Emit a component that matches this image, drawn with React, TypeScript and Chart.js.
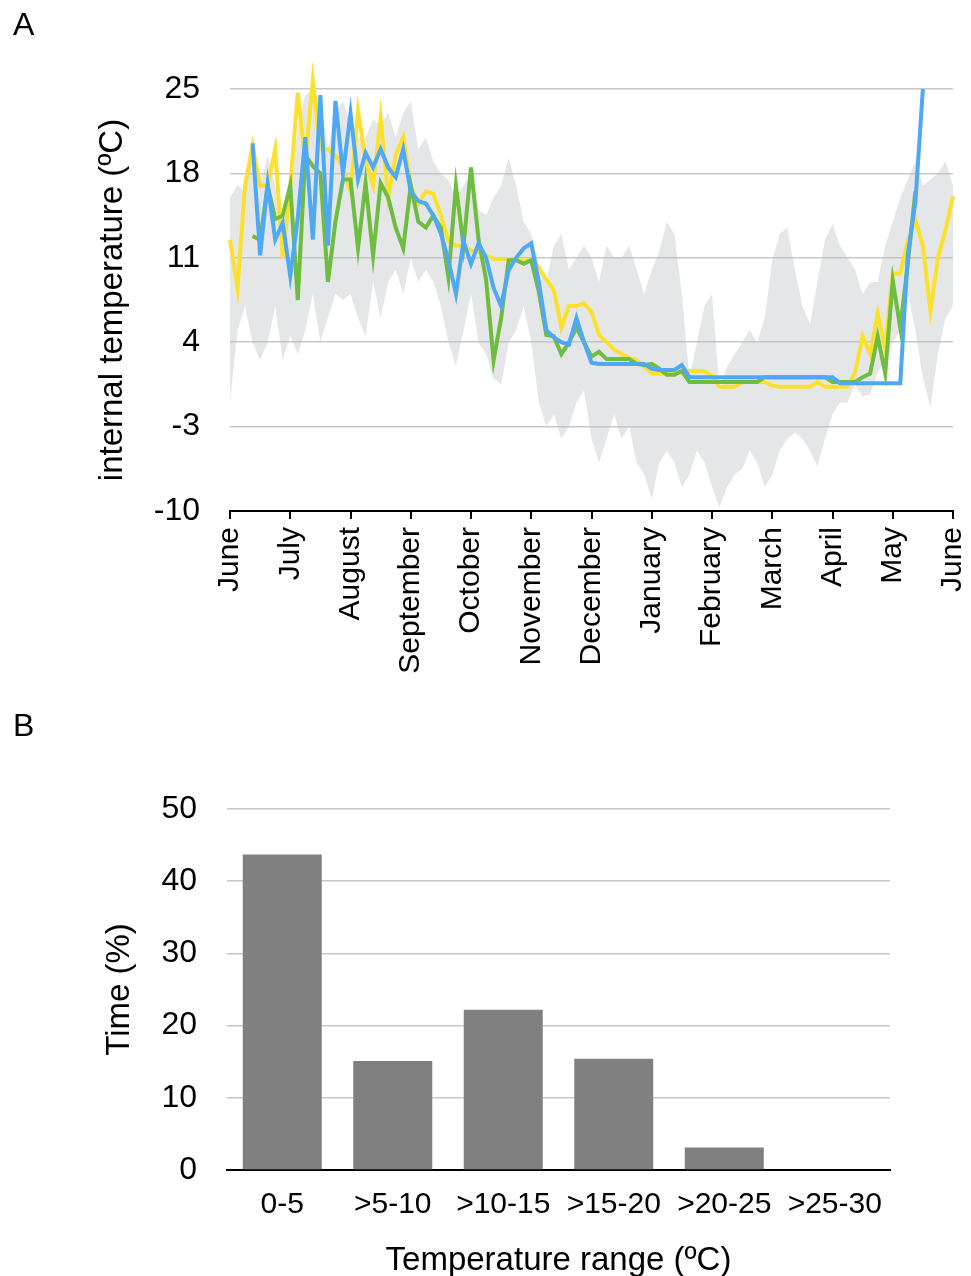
import React, { useEffect, useRef } from 'react';
import { Chart, registerables } from 'chart.js';

Chart.register(...registerables);

const FONT = '"Liberation Sans", Arial, Helvetica, sans-serif';

// ---------- Panel A data ----------
const monthLabels = ['June', 'July', 'August', 'September', 'October', 'November', 'December', 'January', 'February', 'March', 'April', 'May', 'June'];
const tempTicks = [-10, -3, 4, 11, 18, 25];
const samplesPerMonth = 8;

const yellowSeries = [
  12.5, 8.5, 17.0, 20.3, 17.0, 17.0, 20.0, 11.0,
  17.0, 24.7, 19.0, 25.7, 20.0, 20.0, 19.5, 18.5,
  16.5, 23.2, 19.0, 17.0, 22.6, 16.0, 19.5, 21.0,
  17.0, 15.5, 16.5, 16.3, 14.5, 12.4, 12.0, 12.0,
  11.6, 11.5, 11.2, 10.9, 10.9, 10.9, 10.8, 10.8,
  10.8, 10.2, 9.2, 8.3, 5.2, 7.0, 7.0, 7.2,
  6.5, 4.6, 4.0, 3.4, 3.0, 2.7, 2.5, 2.0,
  1.4, 1.4, 1.4, 1.4, 1.6, 1.6, 1.6, 1.6,
  1.2, 0.3, 0.3, 0.3, 0.7, 0.7, 0.7, 0.7,
  0.4, 0.3, 0.3, 0.3, 0.3, 0.3, 0.7, 0.3,
  0.3, 0.3, 0.3, 1.5, 4.5, 3.0, 6.4, 3.5,
  9.7, 9.7, 12.4, 14.1, 12.0, 6.6, 11.0, 13.3,
  16.1,
];

const greenSeries = [
  null, null, null, 12.8, 12.5, 17.0, 14.2, 14.5,
  17.0, 7.5, 19.5, 18.6, 18.0, 9.0, 14.0, 17.5,
  17.5, 11.8, 17.2, 11.2, 17.2, 16.0, 13.5, 11.8,
  17.0, 14.0, 13.5, 14.5, 13.5, 9.4, 17.0, 12.0,
  18.5, 12.5, 9.2, 2.5, 6.0, 10.8, 10.8, 10.5,
  10.8, 8.2, 4.6, 4.5, 3.0, 4.0, 5.2, 4.0,
  2.8, 3.2, 2.6, 2.6, 2.6, 2.6, 2.2, 2.1,
  2.2, 1.8, 1.3, 1.3, 1.6, 0.7, 0.7, 0.7,
  0.7, 0.7, 0.7, 0.7, 0.7, 0.7, 0.7, 1.1,
  1.1, 1.1, 1.1, 1.1, 1.1, 1.1, 1.1, 1.1,
  0.7, 0.7, 0.7, 0.7, 1.1, 1.4, 4.5, 1.4,
  9.1, 5.2, 10.5, 16.5, null, null, null, null,
  null,
];

const blueSeries = [
  null, null, null, 20.5, 11.2, 17.1, 12.5, 13.9,
  9.5, 14.3, 21.0, 12.5, 24.5, 12.0, 24.0, 18.0,
  23.0, 17.5, 19.7, 18.5, 20.0, 18.5, 17.7, 20.0,
  16.5, 15.7, 15.5, 14.5, 13.0, 10.8, 8.0, 12.4,
  10.5, 12.2, 11.0, 8.5, 7.0, 10.0, 11.0, 11.8,
  12.2, 9.0, 5.0, 4.4, 4.0, 3.8, 6.0, 4.0,
  2.3, 2.2, 2.2, 2.2, 2.2, 2.2, 2.2, 2.2,
  1.8, 1.7, 1.7, 1.7, 2.1, 1.1, 1.1, 1.1,
  1.1, 1.1, 1.1, 1.1, 1.1, 1.1, 1.1, 1.1,
  1.1, 1.1, 1.1, 1.1, 1.1, 1.1, 1.1, 1.1,
  1.1, 0.6, 0.6, 0.6, 0.6, 0.6, 0.6, 0.6,
  0.6, 0.6, 11.3, 15.6, 25.0, null, null, null,
  null,
];

const externalMax = [
  16.0, 17.0, 16.5, 20.5, 17.0, 19.5, 17.0, 14.0,
  16.0, 22.0, 24.5, 25.0, 24.0, 20.0, 23.0, 24.0,
  22.0, 21.0, 21.0, 22.5, 22.0, 23.0, 21.0, 23.0,
  24.0, 20.0, 21.0, 19.0, 18.0, 17.5, 16.0, 17.0,
  18.0, 15.0, 14.5, 16.0, 17.0, 19.3, 17.0, 14.0,
  13.0, 10.5, 9.0, 12.0, 13.0, 10.0, 11.0, 12.0,
  11.0, 9.0, 12.0, 11.0, 11.0, 12.0, 10.0, 8.0,
  10.0, 11.5, 14.0, 13.0, 8.0, 1.0, 4.0, 7.0,
  8.0, 0.0, 2.0, 3.0, 4.0, 5.0, 4.0, 6.0,
  10.8, 13.0, 13.5, 10.0, 7.0, 5.5, 9.0, 12.5,
  13.8, 12.0, 11.0, 10.0, 8.0, 9.0, 9.0, 12.0,
  14.0, 16.0, 17.5, 19.0, 17.0, 17.5, 18.0, 19.0,
  17.0,
];

const externalMin = [
  -1.0, 5.0, 7.0, 4.0, 2.5, 4.0, 7.0, 2.5,
  4.5, 3.0, 5.0, 8.0, 4.0, 6.0, 8.0, 7.5,
  8.0, 6.0, 4.5, 9.0, 6.0, 9.0, 10.0, 8.0,
  11.0, 9.0, 10.0, 9.0, 7.0, 4.0, 2.0, 5.0,
  8.0, 4.0, 3.0, 1.0, 0.5, 4.0, 5.0, 7.0,
  4.0, -1.0, -3.0, -2.0, -4.0, -3.0, -1.0, 0.0,
  -4.0, -6.0, -4.0, -2.0, -4.0, -3.0, -6.0, -7.0,
  -9.0, -6.0, -5.0, -6.0, -8.0, -7.0, -5.0, -6.0,
  -8.0, -9.7, -8.0, -7.0, -6.5, -5.0, -6.0, -8.0,
  -7.0, -5.0, -4.0, -3.5, -4.0, -5.0, -6.3, -4.0,
  -2.0, -1.0, -1.0, 0.5, -0.5, -0.3, 1.5, 2.5,
  4.0, 5.0, 8.0, 5.0, 1.0, -1.4, 3.0, 6.0,
  7.0,
];

// ---------- Panel B data ----------
const rangeLabels = ['0-5', '>5-10', '>10-15', '>15-20', '>20-25', '>25-30'];
const timePercent = [43.7, 15.1, 22.2, 15.4, 3.1, 0];
const timeTicks = [0, 10, 20, 30, 40, 50];

const toPoints = (arr: (number | null)[]) =>
  arr.map((y, i) => ({ x: i / samplesPerMonth, y }));

function PanelA() {
  const ref = useRef<HTMLCanvasElement>(null);
  useEffect(() => {
    const lineDs = (label: string, data: (number | null)[], color: string) => ({
      label,
      data: toPoints(data),
      borderColor: color,
      backgroundColor: color,
      borderWidth: 4,
      borderJoinStyle: 'miter',
      pointRadius: 0,
      tension: 0,
      fill: false,
      clip: false as any,
    });
    const chart = new Chart(ref.current!, {
      type: 'line',
      data: {
        datasets: [
          lineDs('blue', blueSeries, '#4fa8f6'),
          lineDs('green', greenSeries, '#6ebd40'),
          lineDs('yellow', yellowSeries, '#fce12c'),
          {
            label: 'external max',
            data: toPoints(externalMax),
            borderColor: 'rgba(0,0,0,0)',
            borderWidth: 0,
            backgroundColor: 'rgba(190,192,196,0.4)',
            pointRadius: 0,
            tension: 0,
            fill: '+1',
          },
          {
            label: 'external min',
            data: toPoints(externalMin),
            borderColor: 'rgba(0,0,0,0)',
            borderWidth: 0,
            pointRadius: 0,
            tension: 0,
            fill: false,
          },
        ] as any,
      },
      options: {
        animation: false,
        responsive: false,
        devicePixelRatio: 1,
        layout: { padding: { left: 0, right: 18, top: 89, bottom: 0 } },
        plugins: { legend: { display: false }, tooltip: { enabled: false } },
        scales: {
          x: {
            type: 'linear',
            min: 0,
            max: 12,
            afterBuildTicks: (s: any) => {
              s.ticks = monthLabels.map((_, i) => ({ value: i }));
            },
            ticks: {
              autoSkip: false,
              minRotation: 90,
              maxRotation: 90,
              padding: 8,
              color: '#000',
              font: { family: FONT, size: 30 },
              callback: (_v: any, i: number) => monthLabels[i],
            },
            grid: { drawOnChartArea: false, drawTicks: true, tickLength: 8, color: '#000', lineWidth: 2 },
            border: { display: true, color: '#000', width: 2 },
            afterFit: (s: any) => {
              s.height = 189;
              s.paddingLeft = 0;
              s.paddingRight = 0;
            },
          },
          y: {
            min: -10,
            max: 25,
            afterBuildTicks: (s: any) => {
              s.ticks = tempTicks.map((v) => ({ value: v }));
            },
            ticks: { padding: 30, color: '#000', font: { family: FONT, size: 32 } },
            grid: { color: '#c7c7c7', lineWidth: 1.5, drawTicks: false },
            border: { display: false },
            title: {
              display: true,
              text: 'internal temperature (ºC)',
              color: '#000',
              font: { family: FONT, size: 33 },
              padding: { top: 93, bottom: 0 },
            },
            afterFit: (s: any) => {
              s.width = 230;
              s.paddingTop = 0;
              s.paddingBottom = 0;
            },
          },
        },
      } as any,
    });
    return () => chart.destroy();
  }, []);
  return (
    <canvas
      ref={ref}
      width={971}
      height={700}
      style={{ position: 'absolute', left: 0, top: 0, width: 971, height: 700 }}
    />
  );
}

function PanelB() {
  const ref = useRef<HTMLCanvasElement>(null);
  useEffect(() => {
    const chart = new Chart(ref.current!, {
      type: 'bar',
      data: {
        labels: rangeLabels,
        datasets: [
          {
            label: 'Time (%)',
            data: timePercent,
            backgroundColor: '#808080',
            barPercentage: 0.715,
            categoryPercentage: 1,
          },
        ],
      },
      options: {
        animation: false,
        responsive: false,
        devicePixelRatio: 1,
        layout: { padding: { left: 0, right: 81, top: 109, bottom: 0 } },
        plugins: { legend: { display: false }, tooltip: { enabled: false } },
        scales: {
          x: {
            ticks: { padding: 17, color: '#000', font: { family: FONT, size: 30 } },
            grid: { display: false, drawTicks: false },
            border: { display: true, color: '#000', width: 2 },
            title: {
              display: true,
              text: 'Temperature range (ºC)',
              color: '#000',
              font: { family: FONT, size: 33 },
              padding: { top: 0, bottom: 0 },
            },
            afterFit: (s: any) => {
              s.height = 111;
              s.paddingLeft = 0;
              s.paddingRight = 0;
            },
          },
          y: {
            min: 0,
            max: 50,
            afterBuildTicks: (s: any) => {
              s.ticks = timeTicks.map((v) => ({ value: v }));
            },
            ticks: { padding: 30, color: '#000', font: { family: FONT, size: 32 } },
            grid: { color: '#c7c7c7', lineWidth: 1.5, drawTicks: false },
            border: { display: false },
            title: {
              display: true,
              text: 'Time (%)',
              color: '#000',
              font: { family: FONT, size: 33 },
              padding: { top: 100, bottom: 0 },
            },
            afterFit: (s: any) => {
              s.width = 227;
              s.paddingTop = 0;
              s.paddingBottom = 0;
            },
          },
        },
      } as any,
    });
    return () => chart.destroy();
  }, []);
  return (
    <canvas
      ref={ref}
      width={971}
      height={581}
      style={{ position: 'absolute', left: 0, top: 700, width: 971, height: 581 }}
    />
  );
}

const panelLetter: React.CSSProperties = {
  position: 'absolute',
  left: 13,
  fontFamily: FONT,
  fontSize: 32,
  lineHeight: '32px',
  color: '#000',
};

export default function App() {
  return (
    <div
      style={{
        position: 'absolute',
        left: 0,
        top: 0,
        width: 971,
        height: 1276,
        background: '#fff',
        overflow: 'hidden',
      }}
    >
      <PanelA />
      <PanelB />
      <div style={{ ...panelLetter, top: 8 }}>A</div>
      <div style={{ ...panelLetter, top: 709 }}>B</div>
    </div>
  );
}
